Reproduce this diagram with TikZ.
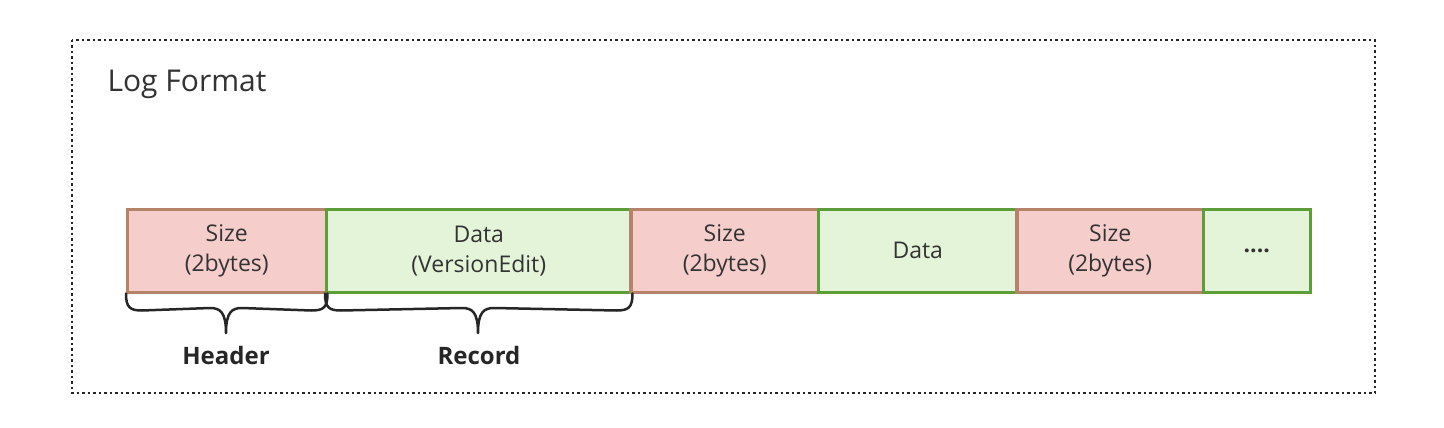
\documentclass[tikz,border=0pt]{standalone}
\usepackage{fontspec}
\setmainfont{Open Sans}
\usetikzlibrary{calc}
\definecolor{pinkfill}{HTML}{F5CDCB}
\definecolor{pinkline}{HTML}{B5836A}
\definecolor{greenfill}{HTML}{E3F4D9}
\definecolor{greenline}{HTML}{5E9E3A}
\definecolor{txt}{HTML}{333333}
\tikzset{
  cell/.style={draw, line width=2.5pt, minimum height=83pt, inner sep=0pt, align=center,
    text=txt, font=\fontsize{23}{30}\selectfont, anchor=north west},
  sizecell/.style={cell, fill=pinkfill, draw=pinkline},
  datacell/.style={cell, fill=greenfill, draw=greenline},
  bracepath/.style={draw=black!85, line width=2.5pt, line join=round, line cap=round},
  bracelabel/.style={text=black!85, font=\fontsize{24}{28}\selectfont\bfseries},
}
\begin{document}
\begin{tikzpicture}[x=1pt,y=-1pt]
\useasboundingbox (0,0) rectangle (1444,428);
\fill[white] (0,0) rectangle (1444,428);
\draw[black!85, line width=2.5pt, dash pattern=on 2.5pt off 3pt] (72,40) rectangle (1375,393);
\node[anchor=west, text=txt, font=\fontsize{30}{34}\selectfont] (title) at (104,84) {Log Format};

\node[sizecell, minimum width=199pt] (s1) at (126,208) {Size\\(2bytes)};
\node[datacell, minimum width=305pt] (d1) at (325,208) {Data\\(VersionEdit)};
\node[sizecell, minimum width=187pt] (s2) at (630,208) {Size\\(2bytes)};
\node[datacell, minimum width=199pt] (d2) at (817,208) {Data};
\node[sizecell, minimum width=186pt] (s3) at (1016,208) {Size\\(2bytes)};
\node[datacell, minimum width=107pt] (d3) at (1202,208) {\textbf{....}};
\draw[pinkline, line width=2.5pt] (s2.north west) -- (s2.south west);
\draw[pinkline, line width=2.5pt] (s3.north west) -- (s3.south west);

% braces
\coordinate (ha) at (s1.south west);
\coordinate (hb) at (s1.south east);
\coordinate (ra) at (d1.south west);
\coordinate (rb) at (d1.south east);
\draw[bracepath] (ha) .. controls ($(ha)+(0,14)$) and ($(ha)+(4,17)$) .. ($(ha)+(16,17)$)
  -- (210,308) .. controls (220,308) and (226,312) .. (226,333)
  .. controls (226,312) and (232,308) .. (242,308)
  -- ($(hb)+(-16,17)$) .. controls ($(hb)+(-4,17)$) and ($(hb)+(0,14)$) .. (hb);
\draw[bracepath] (ra) .. controls ($(ra)+(0,14)$) and ($(ra)+(4,17)$) .. ($(ra)+(16,17)$)
  -- (462,308) .. controls (472,308) and (478,312) .. (478,333)
  .. controls (478,312) and (484,308) .. (494,308)
  -- ($(rb)+(-16,17)$) .. controls ($(rb)+(-4,17)$) and ($(rb)+(0,14)$) .. (rb);
\node[bracelabel] (hl) at (226,355) {Header};
\node[bracelabel] (rl) at (479,355) {Record};
\end{tikzpicture}
\end{document}
